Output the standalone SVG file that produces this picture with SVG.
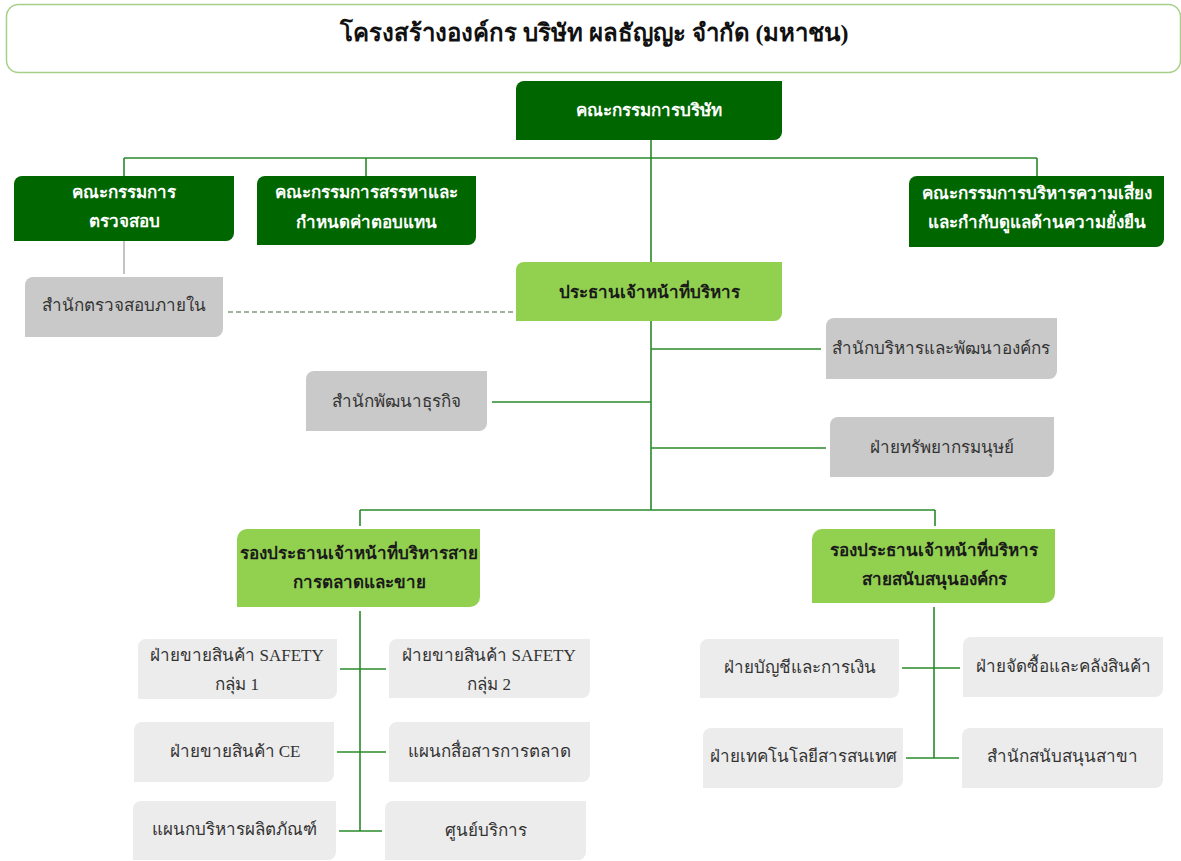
<svg xmlns="http://www.w3.org/2000/svg" width="1181" height="861" viewBox="0 0 1181 861">
<style>
text{font-family:"Liberation Serif","Noto Sans",sans-serif;text-anchor:middle;dominant-baseline:central}
.dk{fill:#006600}
.lg{fill:#92d050}
.gr{fill:#c9c9c9}
.lt{fill:#ececec}
.tw{fill:#fff;font-weight:bold;font-size:17px}
.tb{fill:#1a1a1a;font-weight:bold;font-size:17px}
.tg{fill:#333;font-size:17px}
.ln{stroke:#2a8a2a;stroke-width:1.6;fill:none}
</style>
<g id="title">
<rect x="6.5" y="4.5" width="1174" height="68" rx="12" fill="#fff" stroke="#a6d08a" stroke-width="1.5"/>
<text x="594" y="33" style="font-size:24px;font-weight:bold;fill:#111">โครงสร้างองค์กร บริษัท ผลธัญญะ จำกัด (มหาชน)</text>
</g>
<g id="connectors">
<path class="ln" d="M651 140V510M124 158H1037M124 158V176M366 158V176M1037 158V176"/>
<path d="M124 241V274" stroke="#b5b5b5" stroke-width="1.6"/>
<path d="M228 312H518" stroke="#3f6a3f" stroke-width="1.2" stroke-dasharray="5,3"/>
<path class="ln" d="M651 349H821M492 402H651M651 448H826M360 510H935M360 510V526M935 510V526"/>
<path class="ln" d="M360 611V831M340 669H386M337 752H386M339 831H382"/>
<path class="ln" d="M934 607V758M902 668H960M906 758H959"/>
</g>
<g id="board"><path class="dk" d="M516 89A8 8 0 0 1 524 81H782V132A8 8 0 0 1 774 140H516Z"/><text class="tw" x="649" y="110">คณะกรรมการบริษัท</text></g>
<g id="audit"><path class="dk" d="M14 184A8 8 0 0 1 22 176H234V233A8 8 0 0 1 226 241H14Z"/><text class="tw" x="124" y="192">คณะกรรมการ</text><text class="tw" x="124" y="221">ตรวจสอบ</text></g>
<g id="nomination"><path class="dk" d="M257 184A8 8 0 0 1 265 176H476V237A8 8 0 0 1 468 245H257Z"/><text class="tw" x="366" y="192">คณะกรรมการสรรหาและ</text><text class="tw" x="366" y="222">กำหนดค่าตอบแทน</text></g>
<g id="risk"><path class="dk" d="M909 184A8 8 0 0 1 917 176H1164V239A8 8 0 0 1 1156 247H909Z"/><text class="tw" x="1037" y="193">คณะกรรมการบริหารความเสี่ยง</text><text class="tw" x="1037" y="222">และกำกับดูแลด้านความยั่งยืน</text></g>
<g id="internal-audit"><path class="gr" d="M25 285A8 8 0 0 1 33 277H223V329A8 8 0 0 1 215 337H25Z"/><text class="tg" x="124" y="305">สำนักตรวจสอบภายใน</text></g>
<g id="ceo"><path class="lg" d="M516 270A8 8 0 0 1 524 262H782V313A8 8 0 0 1 774 321H516Z"/><text class="tb" x="649" y="292">ประธานเจ้าหน้าที่บริหาร</text></g>
<g id="org-dev"><path class="gr" d="M826 326A8 8 0 0 1 834 318H1057V371A8 8 0 0 1 1049 379H826Z"/><text class="tg" x="941" y="348">สำนักบริหารและพัฒนาองค์กร</text></g>
<g id="biz-dev"><path class="gr" d="M306 379A8 8 0 0 1 314 371H487V423A8 8 0 0 1 479 431H306Z"/><text class="tg" x="396" y="401">สำนักพัฒนาธุรกิจ</text></g>
<g id="hr"><path class="gr" d="M830 425A8 8 0 0 1 838 417H1054V469A8 8 0 0 1 1046 477H830Z"/><text class="tg" x="942" y="447">ฝ่ายทรัพยากรมนุษย์</text></g>
<g id="vp-marketing"><path class="lg" d="M237 539A10 10 0 0 1 247 529H480V597A10 10 0 0 1 470 607H237Z"/><text class="tb" x="359" y="553">รองประธานเจ้าหน้าที่บริหารสาย</text><text class="tb" x="359" y="582">การตลาดและขาย</text></g>
<g id="vp-support"><path class="lg" d="M812 539A10 10 0 0 1 822 529H1055V593A10 10 0 0 1 1045 603H812Z"/><text class="tb" x="934" y="550">รองประธานเจ้าหน้าที่บริหาร</text><text class="tb" x="934" y="579">สายสนับสนุนองค์กร</text></g>
<g id="safety1"><path class="lt" d="M138 647A8 8 0 0 1 146 639H337V691A8 8 0 0 1 329 699H138Z"/><text class="tg" x="237" y="655">ฝ่ายขายสินค้า SAFETY</text><text class="tg" x="237" y="684">กลุ่ม 1</text></g>
<g id="safety2"><path class="lt" d="M389 647A8 8 0 0 1 397 639H590V690A8 8 0 0 1 582 698H389Z"/><text class="tg" x="489" y="655">ฝ่ายขายสินค้า SAFETY</text><text class="tg" x="489" y="684">กลุ่ม 2</text></g>
<g id="ce"><path class="lt" d="M134 730A8 8 0 0 1 142 722H334V774A8 8 0 0 1 326 782H134Z"/><text class="tg" x="235" y="751">ฝ่ายขายสินค้า CE</text></g>
<g id="mkt-comm"><path class="lt" d="M389 730A8 8 0 0 1 397 722H590V774A8 8 0 0 1 582 782H389Z"/><text class="tg" x="489" y="751">แผนกสื่อสารการตลาด</text></g>
<g id="product"><path class="lt" d="M133 809A8 8 0 0 1 141 801H336V852A8 8 0 0 1 328 860H133Z"/><text class="tg" x="234" y="829">แผนกบริหารผลิตภัณฑ์</text></g>
<g id="service"><path class="lt" d="M385 809A8 8 0 0 1 393 801H586V852A8 8 0 0 1 578 860H385Z"/><text class="tg" x="486" y="830">ศูนย์บริการ</text></g>
<g id="accounting"><path class="lt" d="M700 647A8 8 0 0 1 708 639H899V690A8 8 0 0 1 891 698H700Z"/><text class="tg" x="800" y="667">ฝ่ายบัญชีและการเงิน</text></g>
<g id="purchasing"><path class="lt" d="M963 645A8 8 0 0 1 971 637H1163V689A8 8 0 0 1 1155 697H963Z"/><text class="tg" x="1063" y="666">ฝ่ายจัดซื้อและคลังสินค้า</text></g>
<g id="it"><path class="lt" d="M703 736A8 8 0 0 1 711 728H903V780A8 8 0 0 1 895 788H703Z"/><text class="tg" x="803" y="756">ฝ่ายเทคโนโลยีสารสนเทศ</text></g>
<g id="branch"><path class="lt" d="M962 736A8 8 0 0 1 970 728H1163V780A8 8 0 0 1 1155 788H962Z"/><text class="tg" x="1062" y="756">สำนักสนับสนุนสาขา</text></g>
</svg>
